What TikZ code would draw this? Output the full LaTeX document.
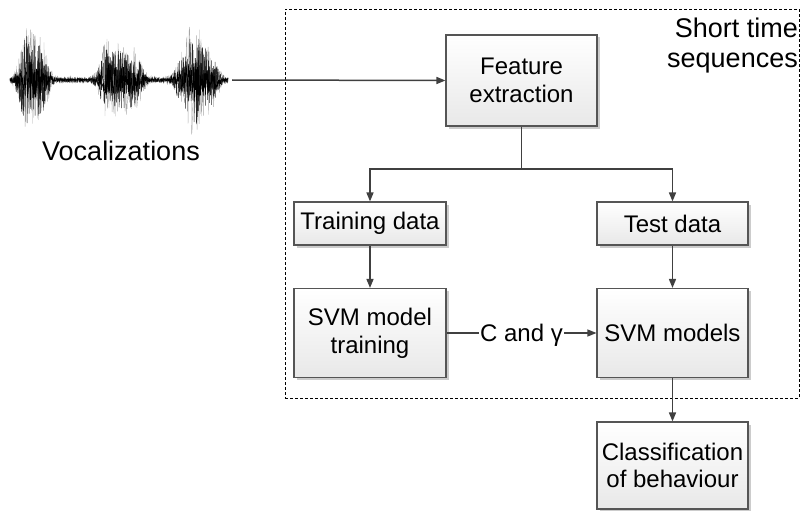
\documentclass[tikz,border=0pt]{standalone}
\usepackage{fontspec}
\setmainfont{Liberation Sans}
\usetikzlibrary{arrows.meta,shadows}
\definecolor{linegray}{RGB}{64,64,64}
\definecolor{boxgray}{RGB}{85,85,85}
\begin{document}
\begin{tikzpicture}[x=1pt,y=-1pt,
  wire/.style={draw=linegray, line width=1.5pt},
  arr/.style={wire, -{Triangle[length=9pt,width=7pt]}},
  blk/.style={rectangle, draw=boxgray, line width=1.1pt,
    top color=white, bottom color=black!9,
    drop shadow={shadow xshift=2.5pt, shadow yshift=-2.5pt, fill=black!20, opacity=1},
    align=center, inner sep=2pt, font=\fontsize{24}{27.6}\selectfont},
  bigtext/.style={inner sep=0pt, font=\fontsize{27}{29.5}\selectfont},
  declare function={
    gb(\t,\c,\w)=exp(0-pow(min(abs((\t-\c)/\w),1.7),4));
    env(\t)=2.4+38*gb(\t,33,16)+10*gb(\t,26,6)
               +30*gb(\t,121,22)+9*gb(\t,106,6)
               +33*gb(\t,197,21)+15*gb(\t,194,7);
  }]
\useasboundingbox (0,0) rectangle (804,511);

% sound recording (waveform): faint envelope, full trace, dense core
\pgfmathsetmacro{\dummy}{0}
\pgfmathsetseed{11}
\draw[black!35, line width=0.35pt] plot[samples=560, domain=9:229] (\x,{80+1.15*env(\x)*rand});
\draw[black!85, line width=0.45pt] plot[samples=800, domain=10:228] (\x,{80+0.9*env(\x)*rand});
\draw[black, line width=0.55pt] plot[samples=700, domain=10:228] (\x,{80+0.45*env(\x)*rand});
\coordinate (wave) at (232,80);
\node[bigtext] (voc) at (121,150.5) {Vocalizations};

% short time sequences frame
\node[draw, dashed, dash pattern=on 3pt off 2pt, line width=0.8pt,
      minimum width=514pt, minimum height=389pt, inner sep=0pt] (seq) at (542,203.5) {};
\node[bigtext, anchor=north east, align=right] (seqlbl) at (798,18) {Short time\\sequences};

% processing blocks
\node[blk, minimum width=151pt, minimum height=91pt] (fe) at (521.5,80.5) {Feature\\extraction};
\node[blk, minimum width=152pt, minimum height=43pt] (train) at (370,223.5) {Training data};
\node[blk, minimum width=151pt, minimum height=43pt] (test) at (672.5,223.5) {Test data};
\node[blk, minimum width=152pt, minimum height=89pt] (svmt) at (370,333) {SVM model\\training};
\node[blk, minimum width=151pt, minimum height=89pt] (svmm) at (672.5,333) {SVM models};
\node[blk, minimum width=151pt, minimum height=87pt] (cls) at (672.5,465.5) {Classification\\of behaviour};
\node[anchor=base, inner sep=1pt, font=\fontsize{24}{27.6}\selectfont] (cg) at (521.5,341.6) {C and γ};

% connectors
\coordinate (split) at (521.5,169);
\draw[arr] (wave) -- (fe.west);
\draw[wire] (fe.south) -- (split);
\draw[arr] (split) -| (train.north);
\draw[arr] (split) -| (test.north);
\draw[arr] (train.south) -- (svmt.north);
\draw[arr] (test.south) -- (svmm.north);
\draw[wire, line width=1.2pt] (svmt.east) -- (cg.west |- svmt.east);
\draw[wire, line width=1.2pt, -{Triangle[length=9pt,width=7pt]}] (cg.east |- svmm.west) -- (svmm.west);
\draw[arr] (svmm.south) -- (cls.north);
\end{tikzpicture}
\end{document}
